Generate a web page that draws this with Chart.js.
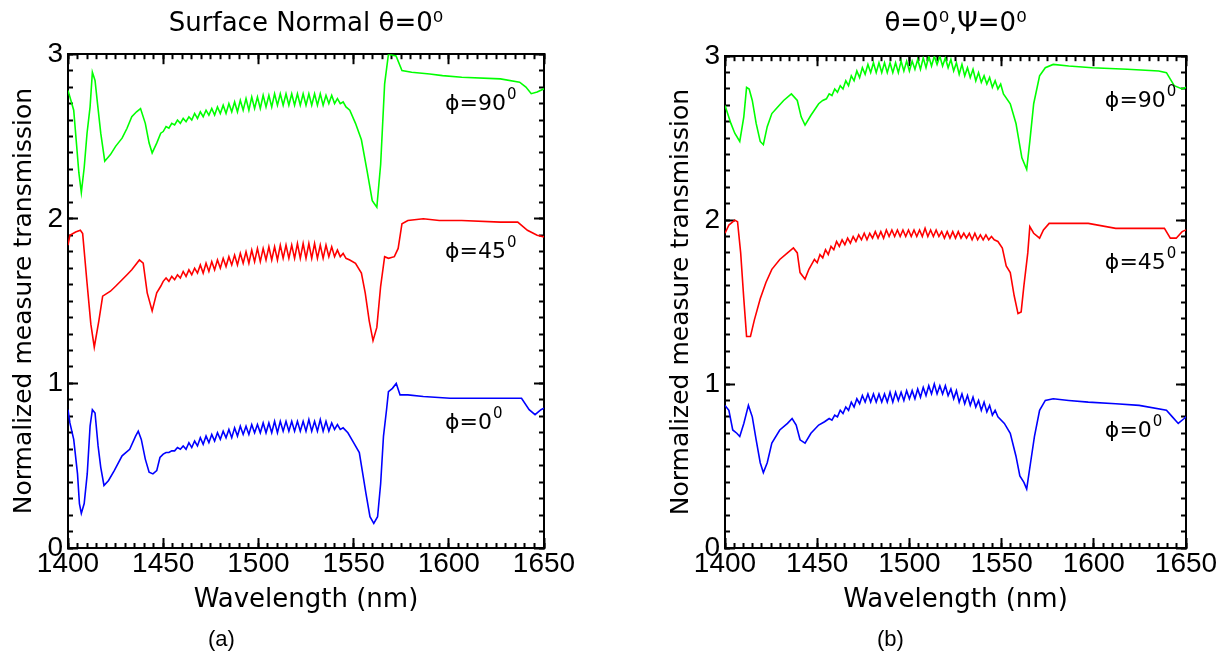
<!DOCTYPE html>
<html>
<head>
<meta charset="utf-8">
<script src="https://cdn.jsdelivr.net/npm/chart.js@4.4.0/dist/chart.umd.min.js"></script>
<style>
  body { margin: 0; background: #fff; width: 1231px; height: 662px; overflow: hidden; position: relative; }
  .wrap { position: absolute; top: 0; height: 662px; }
  #wrapA { left: 0; width: 615px; }
  #wrapB { left: 615px; width: 616px; }
  .cap { position: absolute; top: 626px; font: 22px "Liberation Sans", Arial, sans-serif; color: #000; }
</style>
</head>
<body>
<div class="wrap" id="wrapA"><canvas id="chartA" width="615" height="662"></canvas></div>
<div class="wrap" id="wrapB"><canvas id="chartB" width="616" height="662"></canvas></div>
<div class="cap" style="left:208px">(a)</div>
<div class="cap" style="left:877px">(b)</div>
<script>
// wavelength range and ticks
const wlMin = 1400, wlMax = 1650;
const yMin = 0, yMax = 3;

// (a) surface normal, theta = 0
const greenA = [
  [1400,2.78],[1401.5,2.72],[1403,2.66],[1404.5,2.45],[1405.7,2.28],[1407,2.16],[1408.5,2.31],[1410,2.52],
  [1411.6,2.68],[1412.8,2.89],[1414.2,2.84],[1415.5,2.70],[1417.2,2.52],[1419.3,2.35],[1422.3,2.39],[1425,2.44],
  [1428.4,2.49],[1431,2.55],[1433.5,2.62],[1436,2.65],[1438.1,2.67],[1440.6,2.58],[1442.6,2.46],[1444.2,2.40],
  [1446.6,2.46],[1448.7,2.52],
  [1450,2.53],[1451.5,2.56],[1453,2.55],[1454.5,2.58],[1456,2.57],[1457.5,2.60],[1459,2.58],[1460.5,2.61],
  [1462,2.59],[1463.5,2.62],[1465,2.60],[1466.5,2.64],[1468,2.61],[1469.5,2.65],[1471,2.62],[1472.5,2.66],
  [1474,2.63],[1475.5,2.67],[1477,2.63],[1478.5,2.68],[1480,2.64],[1481.5,2.69],[1483,2.64],[1484.5,2.70],
  [1486,2.65],[1487.5,2.71],[1489,2.65],[1490.5,2.72],[1492,2.66],[1493.5,2.73],[1495,2.66],[1496.5,2.74],
  [1498,2.67],[1499.5,2.74],[1501,2.67],[1502.5,2.75],[1504,2.68],[1505.5,2.75],[1507,2.68],[1508.5,2.76],
  [1510,2.69],[1511.5,2.76],[1513,2.69],[1514.5,2.76],[1516,2.69],[1517.5,2.76],[1519,2.69],[1520.5,2.76],
  [1522,2.69],[1523.5,2.76],[1525,2.69],[1526.5,2.76],[1528,2.69],[1529.5,2.76],[1531,2.69],[1532.5,2.76],
  [1534,2.69],[1535.5,2.75],[1537,2.70],[1538.5,2.75],[1540,2.70],[1541.5,2.73],[1543,2.70],[1544.5,2.71],
  [1546,2.68],[1548,2.66],
  [1551,2.58],[1554.1,2.48],[1557.1,2.29],[1559.8,2.11],[1562.2,2.07],[1564.2,2.33],[1566.3,2.82],[1568.3,3.0],
  [1572.3,2.99],[1575.4,2.90],[1580.5,2.89],[1590,2.88],[1596.7,2.87],[1606.8,2.86],[1627.1,2.85],[1637.2,2.83],
  [1640.5,2.80],[1643.3,2.76],[1646.4,2.77],[1650,2.79]
];
const redA = [
  [1400,1.84],[1401,1.90],[1404,1.92],[1406.5,1.93],[1407.7,1.91],[1410,1.61],[1412,1.36],[1413.8,1.22],
  [1416.2,1.38],[1418.2,1.53],[1422.3,1.56],[1425,1.59],[1428.4,1.63],[1431,1.66],[1433.5,1.69],[1437.5,1.75],
  [1439.5,1.73],[1441.6,1.55],[1444.2,1.44],[1446.6,1.55],[1448.7,1.59],
  [1450,1.62],[1451.5,1.64],[1453,1.62],[1454.5,1.65],[1456,1.63],[1457.5,1.66],[1459,1.64],[1460.5,1.68],
  [1462,1.65],[1463.5,1.69],[1465,1.66],[1466.5,1.70],[1468,1.67],[1469.5,1.72],[1471,1.67],[1472.5,1.73],
  [1474,1.68],[1475.5,1.74],[1477,1.69],[1478.5,1.75],[1480,1.70],[1481.5,1.76],[1483,1.71],[1484.5,1.77],
  [1486,1.72],[1487.5,1.78],[1489,1.72],[1490.5,1.79],[1492,1.73],[1493.5,1.80],[1495,1.73],[1496.5,1.81],
  [1498,1.74],[1499.5,1.82],[1501,1.74],[1502.5,1.82],[1504,1.75],[1505.5,1.83],[1507,1.75],[1508.5,1.83],
  [1510,1.75],[1511.5,1.84],[1513,1.76],[1514.5,1.84],[1516,1.76],[1517.5,1.84],[1519,1.76],[1520.5,1.85],
  [1522,1.76],[1523.5,1.85],[1525,1.76],[1526.5,1.85],[1528,1.76],[1529.5,1.85],[1531,1.76],[1532.5,1.84],
  [1534,1.76],[1535.5,1.84],[1537,1.77],[1538.5,1.83],[1540,1.77],[1541.5,1.81],[1543,1.77],[1544.5,1.79],
  [1546,1.76],[1548,1.75],
  [1551,1.73],[1554.1,1.67],[1556.1,1.55],[1558.2,1.38],[1560.2,1.26],[1562.2,1.34],[1564.2,1.59],[1566.3,1.77],
  [1568.3,1.76],[1571.4,1.77],[1573.4,1.82],[1575.4,1.97],[1578.5,1.99],[1586.6,2.0],[1595,1.99],[1606.8,1.99],
  [1627.1,1.98],[1636.2,1.98],[1641.3,1.93],[1646.4,1.90],[1650,1.89]
];
const blueA = [
  [1400,0.84],[1401,0.76],[1403,0.66],[1405,0.45],[1406,0.27],[1407,0.21],[1408.5,0.27],[1410.1,0.45],
  [1411.6,0.74],[1412.8,0.84],[1414.2,0.82],[1415.8,0.62],[1417.2,0.49],[1418.9,0.38],[1421.3,0.41],[1424.3,0.47],
  [1428.4,0.56],[1432.4,0.60],[1435.5,0.68],[1436.9,0.71],[1438.5,0.66],[1440.6,0.54],[1442.6,0.46],[1444.6,0.45],
  [1446.6,0.47],[1448.3,0.55],
  [1450,0.57],[1451.5,0.58],[1453,0.58],[1454.5,0.59],[1456,0.59],[1457.5,0.61],[1459,0.60],[1460.5,0.62],
  [1462,0.60],[1463.5,0.64],[1465,0.61],[1466.5,0.65],[1468,0.62],[1469.5,0.67],[1471,0.63],[1472.5,0.68],
  [1474,0.64],[1475.5,0.69],[1477,0.65],[1478.5,0.70],[1480,0.66],[1481.5,0.71],[1483,0.67],[1484.5,0.72],
  [1486,0.67],[1487.5,0.73],[1489,0.68],[1490.5,0.74],[1492,0.69],[1493.5,0.74],[1495,0.69],[1496.5,0.75],
  [1498,0.70],[1499.5,0.75],[1501,0.70],[1502.5,0.76],[1504,0.70],[1505.5,0.76],[1507,0.70],[1508.5,0.77],
  [1510,0.70],[1511.5,0.77],[1513,0.71],[1514.5,0.77],[1516,0.71],[1517.5,0.77],[1519,0.71],[1520.5,0.77],
  [1522,0.71],[1523.5,0.77],[1525,0.71],[1526.5,0.78],[1528,0.71],[1529.5,0.77],[1531,0.71],[1532.5,0.78],
  [1534,0.71],[1535.5,0.77],[1537,0.71],[1538.5,0.76],[1540,0.72],[1541.5,0.75],[1543,0.72],[1544.5,0.73],
  [1547,0.70],
  [1550,0.64],[1553,0.58],[1555.1,0.43],[1556.5,0.33],[1558.6,0.19],[1560.6,0.15],[1562.6,0.19],[1564.2,0.39],
  [1565.7,0.68],[1567.3,0.84],[1568.3,0.95],[1570.4,0.97],[1572.4,1.0],[1574.4,0.93],[1578.5,0.93],[1586.6,0.92],
  [1600.7,0.91],[1638.2,0.91],[1642.2,0.84],[1645.3,0.81],[1648.4,0.84],[1650,0.85]
];

// (b) theta = 0, psi = 0
const greenB = [
  [1400,2.70],[1403.2,2.59],[1405.3,2.53],[1408,2.48],[1410.2,2.63],[1411.7,2.81],[1413.1,2.80],[1414.8,2.73],
  [1416.9,2.59],[1419.1,2.48],[1420.8,2.46],[1422.9,2.57],[1425.4,2.65],[1428.6,2.69],[1431.8,2.73],[1436,2.77],
  [1439.2,2.73],[1441.3,2.63],[1443.4,2.58],[1446.6,2.64],[1450.8,2.71],[1453,2.73],
  [1455,2.74],[1456.5,2.77],[1458,2.76],[1459.5,2.80],[1461,2.78],[1462.5,2.82],[1464,2.80],[1465.5,2.85],
  [1467,2.82],[1468.5,2.88],[1470,2.85],[1471.5,2.91],[1473,2.87],[1474.5,2.93],[1476,2.89],[1477.5,2.95],
  [1479,2.90],[1480.5,2.96],[1482,2.90],[1483.5,2.96],[1485,2.90],[1486.5,2.96],[1488,2.90],[1489.5,2.96],
  [1491,2.90],[1492.5,2.96],[1494,2.90],[1495.5,2.97],[1497,2.91],[1498.5,2.97],[1500,2.91],[1501.5,2.97],
  [1503,2.92],[1504.5,2.98],[1506,2.92],[1507.5,2.99],[1509,2.93],[1510.5,3.00],[1512,2.94],[1513.5,3.00],
  [1515,2.95],[1516.5,3.00],[1518,2.94],[1519.5,2.99],[1521,2.93],[1522.5,2.98],[1524,2.91],[1525.5,2.96],
  [1527,2.89],[1528.5,2.95],[1530,2.88],[1531.5,2.93],[1533,2.87],[1534.5,2.92],[1536,2.85],[1537.5,2.90],
  [1539,2.84],[1540.5,2.88],[1542,2.83],[1543.5,2.87],[1545,2.81],[1546.5,2.85],[1548,2.80],[1549.5,2.83],
  [1551,2.77],
  [1554.7,2.71],[1557.8,2.59],[1561,2.38],[1563.6,2.31],[1565.3,2.48],[1567.4,2.71],[1570.6,2.88],[1573.7,2.93],
  [1578,2.95],[1586.4,2.94],[1599.2,2.93],[1618.2,2.92],[1635.2,2.91],[1639.4,2.90],[1643.6,2.82],[1647.9,2.80],
  [1650,2.81]
];
const redB = [
  [1400,1.92],[1402.1,1.97],[1405.3,2.0],[1406.8,1.99],[1408.5,1.80],[1410.2,1.52],[1411.7,1.29],[1413.8,1.29],
  [1415.9,1.39],[1419.1,1.52],[1422.2,1.62],[1425.4,1.70],[1429.7,1.76],[1433.9,1.80],[1437.1,1.83],[1439.2,1.80],
  [1440.7,1.68],[1443.4,1.64],[1445.5,1.70],
  [1447,1.73],[1448.5,1.76],[1450,1.74],[1451.5,1.79],[1453,1.77],[1454.5,1.82],[1456,1.79],[1457.5,1.84],
  [1459,1.82],[1460.5,1.87],[1462,1.84],[1463.5,1.88],[1465,1.85],[1466.5,1.89],[1468,1.86],[1469.5,1.90],
  [1471,1.87],[1472.5,1.91],[1474,1.88],[1475.5,1.92],[1477,1.88],[1478.5,1.92],[1480,1.89],[1481.5,1.93],
  [1483,1.89],[1484.5,1.93],[1486,1.89],[1487.5,1.94],[1489,1.90],[1490.5,1.94],[1492,1.90],[1493.5,1.94],
  [1495,1.90],[1496.5,1.94],[1498,1.90],[1499.5,1.94],[1501,1.90],[1502.5,1.94],[1504,1.90],[1505.5,1.94],
  [1507,1.90],[1508.5,1.95],[1510,1.90],[1511.5,1.94],[1513,1.90],[1514.5,1.94],[1516,1.90],[1517.5,1.93],
  [1519,1.89],[1520.5,1.93],[1522,1.89],[1523.5,1.93],[1525,1.89],[1526.5,1.93],[1528,1.89],[1529.5,1.92],
  [1531,1.89],[1532.5,1.92],[1534,1.88],[1535.5,1.92],[1537,1.88],[1538.5,1.91],[1540,1.88],[1541.5,1.91],
  [1543,1.88],[1544.5,1.90],[1546,1.88],[1548,1.87],
  [1550.4,1.83],[1552.5,1.72],[1554.7,1.68],[1556.8,1.54],[1558.9,1.43],[1560.6,1.44],[1562.1,1.60],[1564.2,1.80],
  [1565.3,1.96],[1567.4,1.92],[1570.6,1.89],[1572.7,1.94],[1575.8,1.98],[1586.4,1.98],[1597,1.98],[1611.9,1.95],
  [1630.9,1.95],[1638.3,1.95],[1641.5,1.89],[1644.7,1.89],[1647.9,1.93],[1650,1.94]
];
const blueB = [
  [1400,0.87],[1402.1,0.84],[1404.2,0.72],[1406.4,0.70],[1408,0.68],[1410.2,0.76],[1412.7,0.87],[1414.8,0.80],
  [1416.9,0.66],[1419.1,0.52],[1420.8,0.46],[1422.9,0.52],[1425.4,0.64],[1429.7,0.72],[1433.9,0.76],[1436.4,0.79],
  [1438.6,0.75],[1440.7,0.66],[1443.4,0.64],[1446.6,0.70],[1450.8,0.75],[1454,0.77],[1456.5,0.79],
  [1458,0.78],[1459.5,0.81],[1461,0.80],[1462.5,0.84],[1464,0.82],[1465.5,0.86],[1467,0.84],[1468.5,0.89],
  [1470,0.86],[1471.5,0.91],[1473,0.88],[1474.5,0.93],[1476,0.89],[1477.5,0.94],[1479,0.89],[1480.5,0.94],
  [1482,0.89],[1483.5,0.94],[1485,0.89],[1486.5,0.94],[1488,0.89],[1489.5,0.95],[1491,0.89],[1492.5,0.95],
  [1494,0.90],[1495.5,0.95],[1497,0.90],[1498.5,0.96],[1500,0.91],[1501.5,0.96],[1503,0.91],[1504.5,0.97],
  [1506,0.92],[1507.5,0.98],[1509,0.93],[1510.5,0.99],[1512,0.94],[1513.5,1.00],[1515,0.94],[1516.5,0.99],
  [1518,0.94],[1519.5,0.99],[1521,0.93],[1522.5,0.97],[1524,0.91],[1525.5,0.96],[1527,0.89],[1528.5,0.94],
  [1530,0.88],[1531.5,0.93],[1533,0.87],[1534.5,0.92],[1536,0.86],[1537.5,0.90],[1539,0.84],[1540.5,0.89],
  [1542,0.83],[1543.5,0.87],[1545,0.81],[1546.5,0.84],[1548,0.80],
  [1551.5,0.76],[1554.7,0.70],[1557.8,0.56],[1559.9,0.44],[1562.1,0.40],[1563.6,0.36],[1565.7,0.52],[1567.8,0.68],
  [1570.6,0.84],[1573.7,0.90],[1578,0.91],[1586.4,0.90],[1597,0.89],[1611.9,0.88],[1624.6,0.87],[1639.4,0.84],
  [1642.6,0.80],[1645.8,0.76],[1649,0.79],[1650,0.80]
];

// curve labels, placed in data coordinates
const labelsA = [
  { text: 'ϕ=90', sup: '0', x: 1598, y: 2.66 },
  { text: 'ϕ=45', sup: '0', x: 1598, y: 1.76 },
  { text: 'ϕ=0', sup: '0', x: 1598, y: 0.72 }
];
const labelsB = [
  { text: 'ϕ=90', sup: '0', x: 1606, y: 2.69 },
  { text: 'ϕ=45', sup: '0', x: 1606, y: 1.70 },
  { text: 'ϕ=0', sup: '0', x: 1606, y: 0.68 }
];

const phiLabels = {
  id: 'phiLabels',
  afterDatasetsDraw(chart, args, opts) {
    const ctx = chart.ctx;
    const xs = chart.scales.x, ys = chart.scales.y;
    ctx.save();
    ctx.fillStyle = '#000';
    ctx.textBaseline = 'alphabetic';
    ctx.textAlign = 'left';
    opts.items.forEach(it => {
      const px = xs.getPixelForValue(it.x);
      const py = ys.getPixelForValue(it.y);
      ctx.font = '22px "DejaVu Sans"';
      ctx.fillText(it.text, px, py);
      const w = ctx.measureText(it.text).width;
      ctx.font = '15px "DejaVu Sans"';
      ctx.fillText(it.sup, px + w + 1, py - 11);
    });
    ctx.restore();
  }
};

const toPts = arr => arr.map(p => ({ x: p[0], y: p[1] }));
const black = '#000';

function tickAxis(pos, step, len, weight, withBorder, min, max) {
  const horiz = pos === 'top' || pos === 'bottom';
  return {
    type: 'linear', position: pos, min: min, max: max, weight: weight,
    ticks: { display: false, stepSize: step, autoSkip: false },
    grid: { drawOnChartArea: false, tickLength: len, tickWidth: 2, tickColor: black },
    border: { display: withBorder, color: black, width: 2 },
    afterFit: s => { if (horiz) s.height = 0; else s.width = 0; }
  };
}

function makeChart(id, series, cfg) {
  return new Chart(document.getElementById(id), {
    type: 'scatter',
    data: {
      datasets: series.map(s => ({
        data: toPts(s.data), showLine: true, borderColor: s.color, backgroundColor: s.color,
        borderWidth: 1.6, pointRadius: 0, tension: 0
      }))
    },
    options: {
      responsive: false, animation: false,
      layout: { padding: { left: 0, right: cfg.padRight, top: 0, bottom: 0 } },
      plugins: {
        legend: { display: false }, tooltip: { enabled: false },
        title: {
          display: true, text: cfg.title, fullSize: false, color: black,
          font: { family: 'DejaVu Sans', size: 26, weight: 'normal' },
          padding: { top: 9, bottom: cfg.titleBottom }
        },
        phiLabels: { items: cfg.labels }
      },
      scales: {
        x: {
          type: 'linear', position: 'bottom', min: wlMin, max: wlMax, weight: 1,
          ticks: { stepSize: 50, autoSkip: false, maxRotation: 0, color: black, padding: 9,
                   font: { family: 'Liberation Sans', size: 28 },
                   callback: v => String(v) },
          grid: { drawOnChartArea: false, tickLength: -10, tickWidth: 2, tickColor: black },
          border: { display: true, color: black, width: 2 },
          title: { display: true, text: 'Wavelength (nm)', color: black,
                   font: { family: 'DejaVu Sans', size: 26 }, padding: { top: 0, bottom: 46 } },
          afterFit: s => { s.height = 114; }
        },
        xMinor: tickAxis('bottom', 5, -5, 0, false, wlMin, wlMax),
        xTop: tickAxis('top', 5, -5, 0, true, wlMin, wlMax),
        xTopMajor: tickAxis('top', 50, -10, 0, false, wlMin, wlMax),
        y: {
          type: 'linear', position: 'left', min: yMin, max: yMax, weight: 1,
          ticks: { stepSize: 1, color: black, padding: 15,
                   font: { family: 'Liberation Sans', size: 28 },
                   callback: v => String(v) },
          grid: { drawOnChartArea: false, tickLength: -10, tickWidth: 2, tickColor: black },
          border: { display: true, color: black, width: 2 },
          title: { display: true, text: 'Normalized measure transmission', color: black,
                   font: { family: 'DejaVu Sans', size: 25 }, padding: { top: cfg.yTitlePad, bottom: 0 } },
          afterFit: s => { s.width = cfg.yWidth; }
        },
        yMinor: tickAxis('left', 0.1, -5, 0, false, yMin, yMax),
        yRight: tickAxis('right', 0.1, -5, 0, true, yMin, yMax),
        yRightMajor: tickAxis('right', 1, -10, 0, false, yMin, yMax)
      }
    },
    plugins: [phiLabels]
  });
}

makeChart('chartA', [
  { data: greenA, color: '#00ff00' },
  { data: redA, color: '#ff0000' },
  { data: blueA, color: '#0000ff' }
], { title: 'Surface Normal θ=0⁰', labels: labelsA, yWidth: 68, yTitlePad: 9, padRight: 71, titleBottom: 14 });

makeChart('chartB', [
  { data: greenB, color: '#00ff00' },
  { data: redB, color: '#ff0000' },
  { data: blueB, color: '#0000ff' }
], { title: 'θ=0⁰,Ψ=0⁰', labels: labelsB, yWidth: 110, yTitlePad: 51, padRight: 45, titleBottom: 16 });
</script>
</body>
</html>
